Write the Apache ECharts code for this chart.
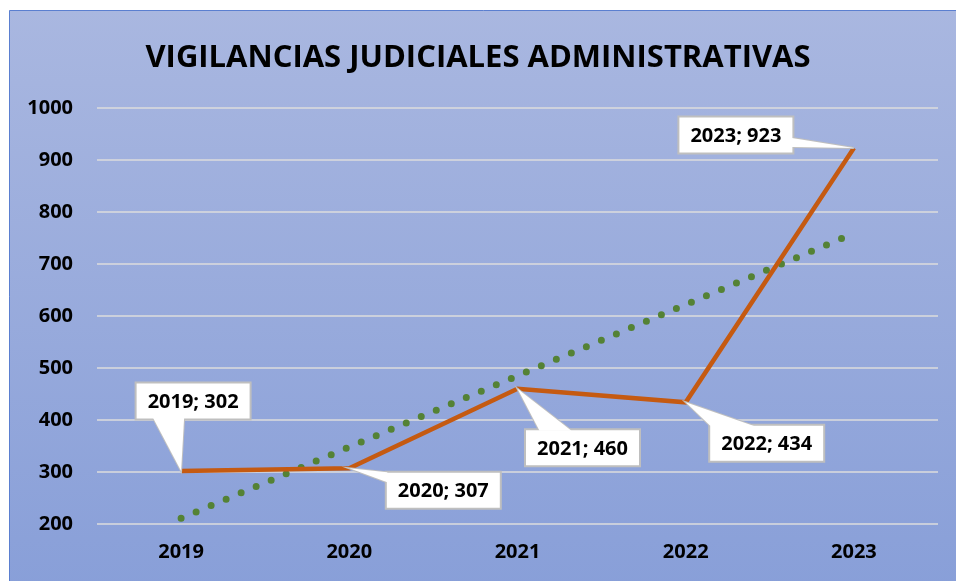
<!DOCTYPE html>
<html><head><meta charset="utf-8">
<script src="https://cdn.jsdelivr.net/npm/echarts@6/dist/echarts.min.js"></script>
<style>html,body{margin:0;padding:0;background:#fff}#c{width:956px;height:581px}</style>
</head><body><div id="c"></div>
<script>
const title = 'VIGILANCIAS JUDICIALES ADMINISTRATIVAS';
const categories = ['2019', '2020', '2021', '2022', '2023'];
const values = [302, 307, 460, 434, 923];
const trendValues = [211, 348, 485, 622, 759];
const yTicks = { min: 200, max: 1000, interval: 100 };

// callout styling: box centre offset from point (px), wedge base points relative to box centre
const calloutStyle = [
  { dx: 12, dy: -70, base: [[-40, 17], [-9, 17]] },
  { dx: 94, dy: 22, base: [[-56, -18], [-56, -8]] },
  { dx: 65, dy: 59, base: [[-43, -17], [-11, -17]] },
  { dx: 81, dy: 41, base: [[-56, -17], [-12, -17]] },
  { dx: -118, dy: -13, base: [[56, 3], [56, 12]] }
];
const FONT = '"Open Sans", "DejaVu Sans", sans-serif';

const chart = echarts.init(document.getElementById('c'), null, { renderer: 'canvas' });
chart.setOption({
  backgroundColor: '#ffffff',
  animation: false,
  graphic: [{
    type: 'rect', z: -100, silent: true,
    shape: { x: 9.5, y: 10.5, width: 960, height: 600 },
    style: {
      fill: new echarts.graphic.LinearGradient(0, 0, 0, 1, [
        { offset: 0, color: '#a9b7e0' },
        { offset: 1, color: '#879ed8' }
      ]),
      stroke: '#5b7fd0', lineWidth: 1
    }
  }],
  title: {
    text: title, left: 'center', top: 38,
    textStyle: { fontFamily: FONT, fontWeight: 'bold', fontSize: 31, color: '#000' }
  },
  grid: { left: 97, right: 18, top: 108, bottom: 57 },
  xAxis: {
    type: 'category', data: categories, boundaryGap: true,
    axisLine: { show: false }, axisTick: { show: false },
    axisLabel: { margin: 18, fontFamily: FONT, fontWeight: 'bold', fontSize: 20, color: '#000' },
    splitLine: { show: false }
  },
  yAxis: {
    type: 'value', min: yTicks.min, max: yTicks.max, interval: yTicks.interval,
    axisLine: { show: false }, axisTick: { show: false },
    axisLabel: { margin: 24, fontFamily: FONT, fontWeight: 'bold', fontSize: 20, color: '#000',
      formatter: v => String(v) },
    splitLine: { lineStyle: { color: '#dcdcdc', width: 1.5 } }
  },
  series: [
    {
      type: 'line', name: 'trend', data: trendValues, symbol: 'none', z: 2,
      lineStyle: { color: '#548235', width: 7, type: [0, 16.3], cap: 'round' }
    },
    {
      type: 'line', name: 'data', data: values, symbol: 'none', z: 3,
      lineStyle: { color: '#c55a11', width: 4.5, join: 'miter' }
    },
    {
      type: 'custom', name: 'callouts', z: 5,
      data: categories.map((c, i) => [i, values[i]]),
      renderItem: function (params, api) {
        const i = params.dataIndex;
        const pt = api.coord([api.value(0), api.value(1)]);
        const s = calloutStyle[i];
        const cx = pt[0] + s.dx, cy = pt[1] + s.dy;
        const w = 115, h = 37;
        const wedge = [[pt[0], pt[1]], [cx + s.base[0][0], cy + s.base[0][1]], [cx + s.base[1][0], cy + s.base[1][1]]];
        return {
          type: 'group',
          children: [
            { type: 'polygon', shape: { points: wedge }, style: { fill: '#fff', stroke: '#bfbfbf', lineWidth: 2 } },
            { type: 'rect', shape: { x: cx - w / 2, y: cy - h / 2, width: w, height: h }, style: { fill: '#fff', stroke: '#bfbfbf', lineWidth: 2 } },
            { type: 'polygon', shape: { points: wedge }, style: { fill: '#fff' } },
            { type: 'text', x: cx, y: cy + 1, style: {
                text: categories[i] + '; ' + values[i], align: 'center', verticalAlign: 'middle',
                fontFamily: FONT, fontWeight: 'bold', fontSize: 20, fill: '#000' } }
          ]
        };
      }
    }
  ]
});
</script></body></html>
